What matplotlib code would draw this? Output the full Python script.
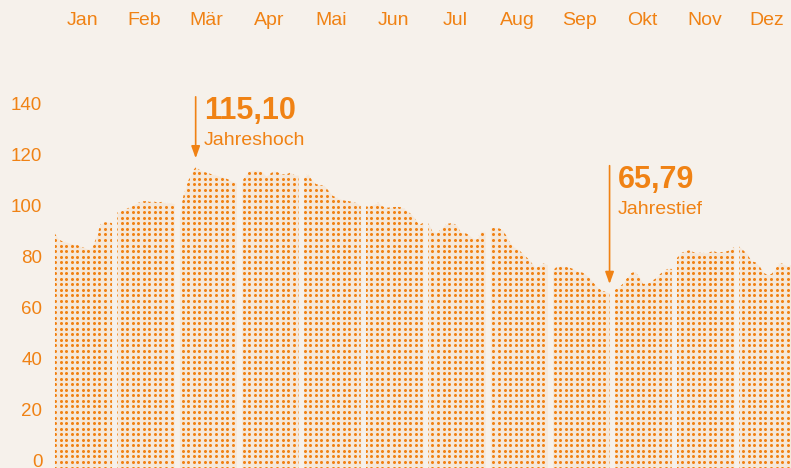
import numpy as np
import matplotlib
matplotlib.use('Agg')
import matplotlib.pyplot as plt
from matplotlib.path import Path

# Kurswerte je Monat
jan = [89.0, 86.7, 86.0, 85.7, 85.2, 84.8, 84.5, 83.8, 83.3, 83.0, 84.0, 88.0, 92.8, 93.5, 93.5, 93.2]
feb = [97.3, 97.8, 98.5, 99.3, 100.3, 101.0, 101.7, 101.8, 101.5, 101.6, 101.3, 101.5, 101.0, 101.2, 100.8]
mar = [96.0, 104.0, 109.0, 113.0, 115.10, 114.0, 113.3, 112.8, 112.3, 112.0, 111.5, 111.0, 110.3, 109.5, 109.0]
apr = [109.0, 112.0, 113.7, 114.0, 114.0, 113.3, 111.5, 112.5, 113.7, 113.0, 112.3, 112.3, 113.0, 112.0, 112.0]
mai = [111.0, 112.5, 110.0, 108.5, 108.0, 108.0, 106.0, 104.0, 103.2, 102.6, 102.0, 101.8, 101.5, 101.0, 100.0]
jun = [99.7, 99.8, 100.5, 101.2, 99.8, 99.2, 99.3, 99.5, 99.5, 99.3, 98.0, 96.8, 95.0, 92.5, 93.2]
jul = [93.2, 90.0, 89.4, 90.5, 92.3, 93.0, 93.2, 92.3, 89.6, 89.4, 88.5, 87.2, 86.8, 90.0, 89.5]
aug = [91.2, 91.5, 91.2, 90.5, 88.0, 85.0, 83.5, 82.7, 81.0, 79.6, 77.8, 75.7, 76.5, 77.3, 77.0]
sep = [74.5, 76.0, 76.3, 76.0, 75.8, 75.2, 74.3, 74.0, 73.2, 71.8, 69.8, 68.0, 66.8, 66.2, 65.79]
okt = [67.0, 67.8, 69.4, 71.6, 73.5, 74.2, 72.0, 69.3, 69.5, 70.3, 71.4, 73.0, 74.3, 75.2, 75.2]
nov = [79.5, 81.4, 82.1, 82.5, 81.8, 81.4, 81.6, 81.4, 81.8, 82.1, 81.7, 81.8, 82.0, 82.5, 83.8]
dez = [84.0, 82.5, 81.0, 78.2, 77.8, 76.3, 73.6, 72.9, 73.3, 75.5, 77.8, 76.9, 76.2, 77.5, 77.5]

werte = [jan, feb, mar, apr, mai, jun, jul, aug, sep, okt, nov, dez]
monate = ['Jan', 'Feb', 'Mär', 'Apr', 'Mai', 'Jun', 'Jul', 'Aug', 'Sep', 'Okt', 'Nov', 'Dez']
y_ticks = [0, 20, 40, 60, 80, 100, 120, 140]

ORANGE = '#f08214'
BG = '#f6f1eb'
plt.rcParams['font.family'] = ['Liberation Sans', 'DejaVu Sans']

fig = plt.figure(figsize=(7.91, 4.68), dpi=100, facecolor=BG)
ax = fig.add_axes([52 / 791, 0, 739 / 791, 428 / 468])
ax.set_facecolor(BG)
ax.set_xlim(-0.048, 11.833)
ax.set_ylim(-2.9, 165.0)

# Flächen je Monat, mit kleiner Lücke dazwischen
pfade = []
alle_x, alle_y = [], []
for i, vals in enumerate(werte):
    x = i + np.linspace(0, 0.916, len(vals))
    coll = ax.fill_between(x, -10, vals, color=ORANGE, alpha=0.08, lw=0)
    pfade.append(coll.get_paths()[0])
    alle_x.extend(x)
    alle_y.extend(vals)
alle_x = np.array(alle_x)
alle_y = np.array(alle_y)

# Punktraster, auf die Flächen zugeschnitten
step = 5.55
gx, gy = np.meshgrid(np.arange(3, 739, step), np.arange(0.5, 428, step))
dots = ax.scatter(gx.ravel() / 739, gy.ravel() / 428, s=4.8, color=ORANGE,
                  lw=0, transform=ax.transAxes)
dots.set_clip_path(Path.make_compound_path(*pfade), ax.transData)

# Jahreshoch / Jahrestief
def markiere(idx, oben, zahl, text):
    x, v = alle_x[idx], alle_y[idx]
    ax.annotate('', xy=(x, v + 3.5), xytext=(x, oben),
                arrowprops=dict(arrowstyle='-|>,head_length=0.72,head_width=0.26',
                                color=ORANGE, lw=1.2, shrinkA=0, shrinkB=0,
                                mutation_scale=10))
    ax.annotate(zahl, xy=(x, oben), xytext=(6, -16), textcoords='offset points',
                color=ORANGE, fontsize=22, fontweight='bold', va='baseline')
    ax.annotate(text, xy=(x, oben), xytext=(6, -35), textcoords='offset points',
                color=ORANGE, fontsize=14, va='baseline')

markiere(np.argmax(alle_y), 142.7, '115,10', 'Jahreshoch')
markiere(np.argmin(alle_y), 115.7, '65,79', 'Jahrestief')

ax.set_yticks(y_ticks)
ax.set_xticks(np.arange(12) + 0.44)
ax.set_xticklabels(monate)
ax.xaxis.tick_top()
ax.tick_params(axis='y', length=0, pad=7, labelsize=13.5, labelcolor=ORANGE)
ax.tick_params(axis='x', length=0, pad=8, labelsize=14, labelcolor=ORANGE)
for s in ax.spines.values():
    s.set_visible(False)

fig.savefig('out.png', dpi=100, facecolor=BG)
